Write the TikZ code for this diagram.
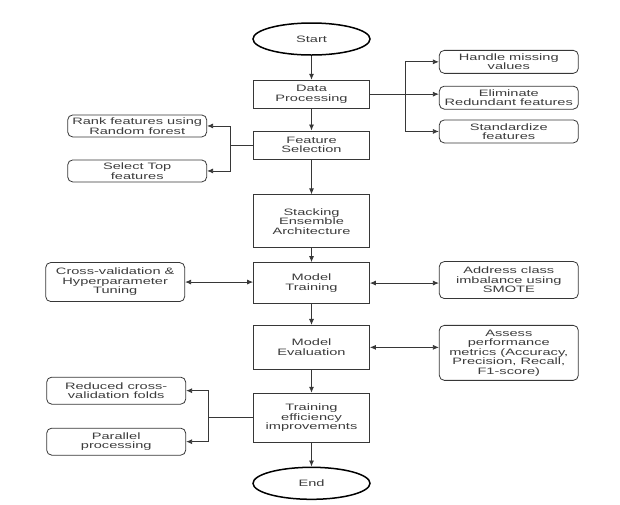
\documentclass[tikz,border=0pt]{standalone}
\usepackage{fontspec}
\setmainfont{Liberation Sans}[FakeStretch=1.57]
\usetikzlibrary{positioning,arrows.meta,shapes.geometric}
\definecolor{ln}{RGB}{55,55,55}
\definecolor{tx}{RGB}{60,60,60}

\begin{document}
\begin{tikzpicture}[x=1pt,y=1pt,font=\fontsize{9.3}{9.5}\selectfont,>={Latex[length=6pt,width=5pt]},
  node distance=22pt and 69pt,
  term/.style={draw=black,line width=1.5pt,ellipse,minimum width=117pt,minimum height=32pt,inner sep=0pt,text=tx},
  proc/.style={draw=ln,line width=0.8pt,minimum width=116pt,align=center,inner sep=2pt,text=tx},
  side/.style={draw=ln,line width=0.8pt,rounded corners=5pt,minimum width=139pt,align=center,inner sep=1.5pt,text=tx},
  conn/.style={draw=ln,line width=0.8pt}]
  \useasboundingbox (0,0) rectangle (620,-504);
  % main column
  \node[term] (start) at (311.5,-39) {Start};
  \node[proc,minimum height=28pt,below=24pt of start] (dp) {Data\\Processing};
  \node[proc,minimum height=28pt,below=22pt of dp] (fs) {Feature\\Selection};
  \node[proc,minimum height=53pt,below=35pt of fs] (stk) {Stacking\\Ensemble\\Architecture};
  \node[proc,minimum height=41pt,below=14pt of stk] (mt) {Model\\Training};
  \node[proc,minimum height=44pt,below=21pt of mt] (me) {Model\\Evaluation};
  \node[proc,minimum height=49pt,below=23pt of me] (te) {Training\\efficiency\\improvements};
  \node[term,below=24pt of te] (stop) {End};
  % side boxes
  \node[side,minimum height=23pt,right=69pt of dp,yshift=-3.5pt] (elim) {Eliminate\\Redundant features};
  \node[side,minimum height=23pt,above=12pt of elim] (hmv) {Handle missing\\values};
  \node[side,minimum height=23pt,below=10pt of elim] (std) {Standardize\\features};
  \node[side,minimum height=22pt,left=46pt of fs,yshift=19pt] (rank) {Rank features using\\Random forest};
  \node[side,minimum height=22pt,left=46pt of fs,yshift=-26pt] (sel) {Select Top\\features};
  \node[side,minimum height=39pt,left=68pt of mt,yshift=1pt] (cv) {Cross-validation \&\\Hyperparameter\\Tuning};
  \node[side,minimum height=37pt,right=69pt of mt,yshift=3pt] (smote) {Address class\\imbalance using\\SMOTE};
  \node[side,minimum height=55pt,right=69pt of me,yshift=-5.5pt] (assess) {Assess\\performance\\metrics (Accuracy,\\Precision, Recall,\\F1-score)};
  \node[side,minimum height=27pt,left=67pt of te,yshift=27pt] (red) {Reduced cross-\\validation folds};
  \node[side,minimum height=27pt,left=67pt of te,yshift=-24pt] (par) {Parallel\\processing};
  % flow
  \draw[conn,->] (start)--(dp); \draw[conn,->] (dp)--(fs); \draw[conn,->] (fs)--(stk);
  \draw[conn,->] (stk)--(mt); \draw[conn,->] (mt)--(me); \draw[conn,->] (me)--(te);
  \draw[conn,->] (te)--(stop);
  % branches
  \draw[conn,->] (dp.east)--(dp.east -| elim.west);
  \draw[conn,->] ([xshift=35pt]dp.east) |- (hmv);
  \draw[conn,->] ([xshift=35pt]dp.east) |- (std);
  \draw[conn] (fs.west)--++(-23pt,0);
  \draw[conn,->] ([xshift=-23pt]fs.west) |- (rank);
  \draw[conn,->] ([xshift=-23pt]fs.west) |- (sel);
  \draw[conn,<->] (cv.east)--(cv.east -| mt.west);
  \draw[conn,<->] (mt.east)--(mt.east -| smote.west);
  \draw[conn,<->] (me.east)--(me.east -| assess.west);
  \draw[conn] (te.west)--++(-45pt,0);
  \draw[conn,->] ([xshift=-45pt]te.west) |- (red);
  \draw[conn,->] ([xshift=-45pt]te.west) |- (par);
\end{tikzpicture}
\end{document}
